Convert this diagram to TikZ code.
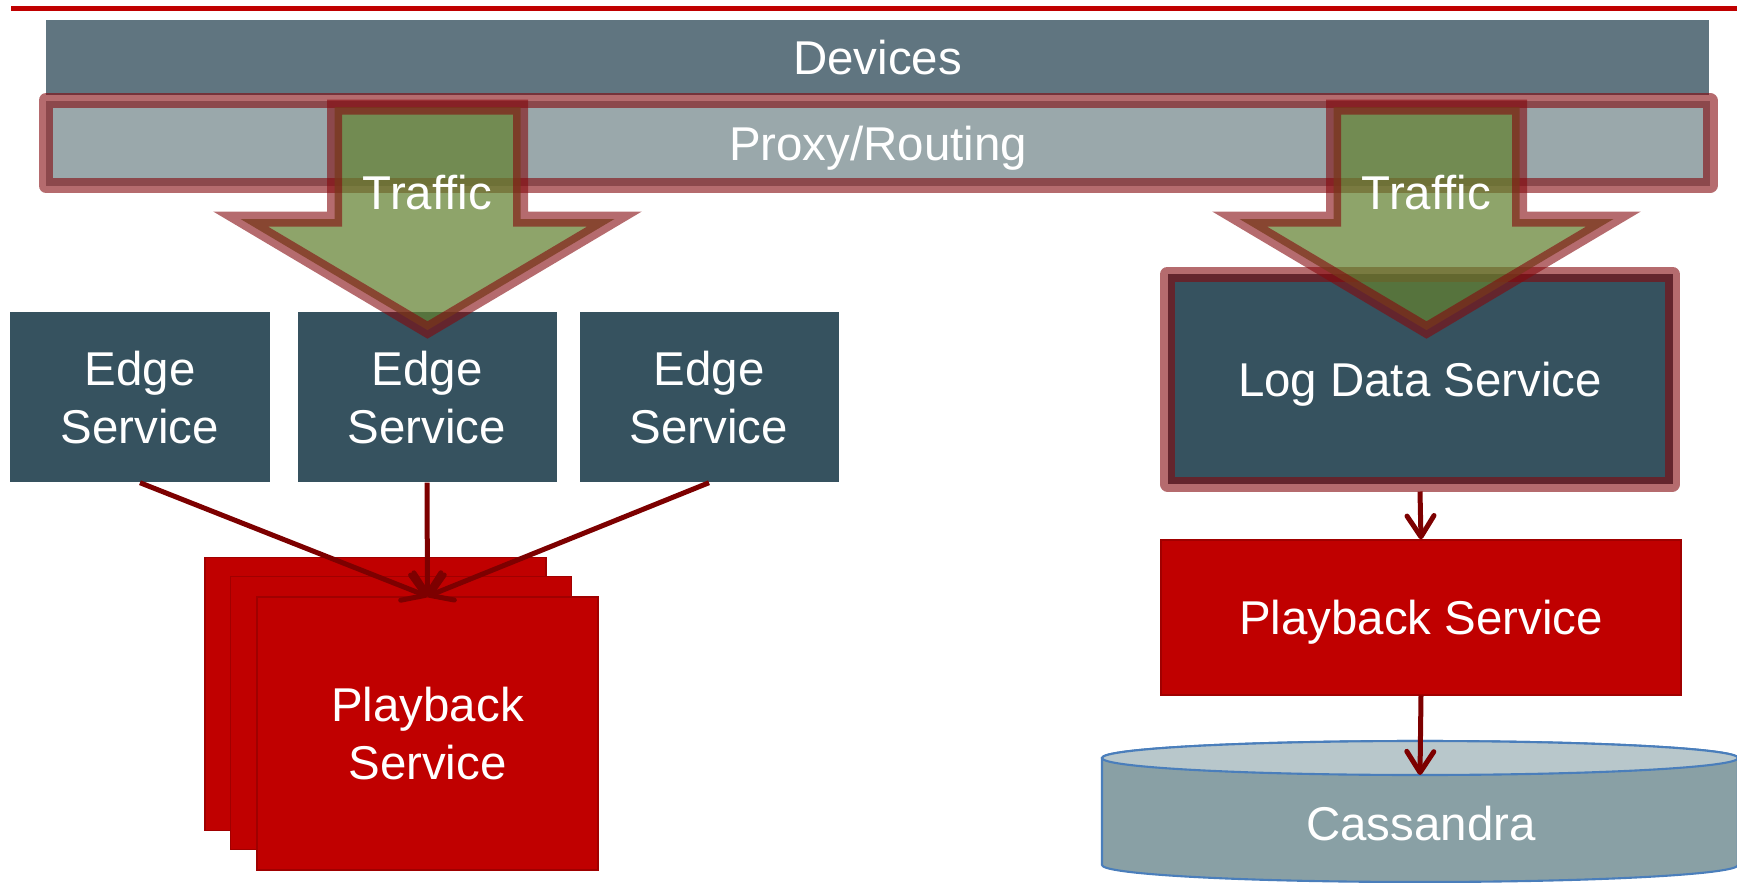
\documentclass[tikz,border=0pt]{standalone}
\usepackage{fontspec}
\setmainfont{Liberation Sans}
\usepackage{tikz}
\usetikzlibrary{calc, positioning, arrows.meta}
\definecolor{topRed}{RGB}{192,0,0}
\definecolor{devGrey}{RGB}{96,117,128}
\definecolor{proxyGrey}{RGB}{154,168,171}
\definecolor{slate}{RGB}{54,82,95}
\definecolor{pbRed}{RGB}{192,0,0}
\definecolor{pbEdge}{RGB}{160,0,0}
\definecolor{glowRed}{RGB}{132,8,13}
\definecolor{arrowRed}{RGB}{125,0,0}
\definecolor{trafficGreen}{RGB}{99,129,48}
\definecolor{cassBody}{RGB}{137,160,165}
\definecolor{cassTop}{RGB}{184,199,203}
\definecolor{cassLine}{RGB}{74,126,187}

\begin{document}
\begin{tikzpicture}[
  font=\fontsize{13.5}{16.5}\selectfont,
  bar/.style={rectangle, inner sep=0pt, text=white, text depth=0pt},
  box/.style={rectangle, inner sep=0pt, text=white, align=center, text depth=0pt,
              minimum width=2.59cm, minimum height=1.70cm, fill=slate},
  pbbox/.style={rectangle, inner sep=0pt, text=white, align=center, text depth=0pt,
                fill=pbRed, draw=pbEdge, line width=0.4pt},
  glow/.style={draw=glowRed, draw opacity=0.6, line width=0.15cm, line join=round},
  traffic/.style={fill=trafficGreen, fill opacity=0.72, draw=glowRed,
                  draw opacity=0.6, line width=0.15cm, line join=miter},
  conn/.style={-{Straight Barb[length=0.21cm, width=0.27cm, round]},
               draw=arrowRed, line width=0.05cm},
]
\useasboundingbox (0,0) rectangle (17.37,-8.83);

% --- Top rule -------------------------------------------------------
\draw[topRed, line width=0.05cm] (0.11,-0.085) -- (17.37,-0.085);

% --- Devices and proxy layer ----------------------------------------
\node[bar, fill=devGrey, minimum width=16.63cm, minimum height=0.75cm]
  (devices) at (8.775,-0.575) {Devices};
\node[bar, fill=proxyGrey, glow, minimum width=16.64cm, minimum height=0.85cm]
  (proxy) at (8.78,-1.43) {Proxy/Routing};

% --- Edge tier (left) -----------------------------------------------
\foreach \x/\i in {1.40/1, 4.27/2, 7.09/3} {
  \node[box] (edge\i) at (\x,-3.97) {Edge\\Service};
}

% Playback stack
\node[pbbox, minimum width=3.41cm, minimum height=2.73cm] (pbBack) at (3.755,-6.94) {};
\node[pbbox, minimum width=3.41cm, minimum height=2.73cm] (pbMid) at (4.01,-7.13) {};
\node[pbbox, minimum width=3.41cm, minimum height=2.73cm] (pbFront) at (4.275,-7.335) {Playback\\Service};

\foreach \i in {1,2,3} {
  \draw[conn] (edge\i.south) -- (pbFront.north);
}

% --- Log path (right) -----------------------------------------------
\node[box, glow, minimum width=5.05cm, minimum height=2.10cm]
  (logData) at (14.20,-3.79) {Log Data Service};
\node[pbbox, minimum width=5.20cm, minimum height=1.55cm]
  (playback) at (14.21,-6.175) {Playback Service};

% Cassandra cylinder
\filldraw[fill=cassBody, draw=cassLine, line width=0.6pt]
  (11.02,-7.58) -- (11.02,-8.65) arc (180:360:3.18 and 0.17)
  -- (17.38,-7.58) arc (0:180:3.18 and 0.17) -- cycle;
\filldraw[fill=cassTop, draw=cassLine, line width=0.6pt] (14.20,-7.58) ellipse (3.18 and 0.17);
\coordinate (cassTopPt) at (14.20,-7.75);
\node[bar] (cassandra) at (14.21,-8.23) {Cassandra};

\draw[conn] (logData.south) -- (playback.north);
\draw[conn] (playback.south) -- (cassTopPt);

% --- Traffic arrows -------------------------------------------------
\foreach \cx/\i in {4.275/1, 14.265/2} {
  \filldraw[traffic] ({\cx-0.93},-1.07) -- ({\cx+0.93},-1.07) -- ({\cx+0.93},-2.19)
    -- ({\cx+1.87},-2.19) -- (\cx,-3.30) -- ({\cx-1.87},-2.19)
    -- ({\cx-0.93},-2.19) -- cycle;
  \node[bar] (traffic\i) at (\cx,-1.92) {Traffic};
}
\end{tikzpicture}
\end{document}
